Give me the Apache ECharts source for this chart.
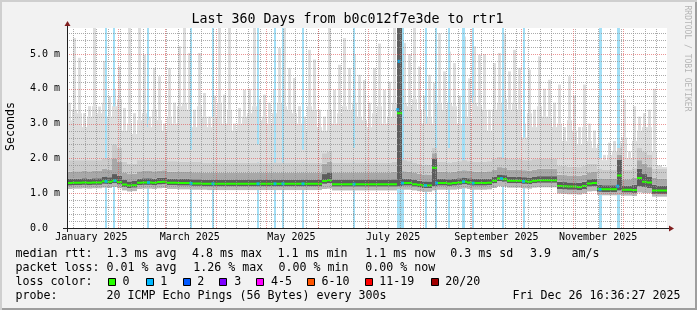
<!DOCTYPE html>
<html><head><meta charset="utf-8">
<script src="https://cdn.jsdelivr.net/npm/echarts@6/dist/echarts.min.js"></script>
<style>html,body{margin:0;padding:0;background:#f2f2f2}#c{width:697px;height:310px}</style>
</head><body><div id="c"></div>
<script>
// ---------- data ----------
const AXIS_START = '2025-01-01T08:00:00Z';   // left edge of the 360-day window (fitted to the grid)
const SPAN_DAYS = 360;
const BIN_DAYS = 3;                          // one value per 3 days (120 bins)
const Y_MAX = 5.747;                         // ms at the top of the plot

// median rtt per bin (ms)
const median = [
 1.29,1.30,1.30,1.31,1.30,1.31,1.31,1.34,1.33,1.36,
 1.32,1.25,1.22,1.23,1.30,1.31,1.31,1.30,1.32,1.33,
 1.30,1.30,1.29,1.29,1.29,1.28,1.28,1.27,1.27,1.27,
 1.27,1.27,1.27,1.27,1.27,1.27,1.27,1.27,1.27,1.27,
 1.27,1.27,1.27,1.27,1.27,1.27,1.27,1.27,1.27,1.27,
 1.27,1.35,1.37,1.26,1.26,1.26,1.26,1.26,1.26,1.26,
 1.26,1.26,1.26,1.26,1.26,1.26,3.30,1.29,1.29,1.26,
 1.24,1.22,1.22,1.73,1.29,1.29,1.28,1.29,1.31,1.33,
 1.31,1.29,1.29,1.29,1.30,1.36,1.42,1.40,1.36,1.36,
 1.36,1.34,1.33,1.36,1.37,1.37,1.37,1.37,1.21,1.20,
 1.19,1.19,1.18,1.21,1.28,1.29,1.12,1.11,1.11,1.11,
 1.51,1.10,1.10,1.09,1.44,1.33,1.31,1.08,1.08,1.08];

// smoke: lowest ping
const smokeMin = [
 1.12,1.13,1.13,1.14,1.13,1.14,1.14,1.16,1.15,1.18,
 1.14,1.08,1.05,1.06,1.12,1.13,1.13,1.12,1.14,1.15,
 1.12,1.12,1.11,1.11,1.11,1.10,1.10,1.10,1.09,1.09,
 1.09,1.09,1.09,1.09,1.09,1.09,1.09,1.09,1.09,1.09,
 1.09,1.09,1.09,1.09,1.09,1.09,1.09,1.09,1.09,1.09,
 1.09,1.12,1.13,1.08,1.08,1.08,1.08,1.08,1.08,1.08,
 1.08,1.08,1.08,1.08,1.08,1.08,1.12,1.10,1.10,1.08,
 1.06,1.04,1.04,1.08,1.10,1.10,1.10,1.10,1.12,1.14,
 1.12,1.10,1.10,1.10,1.11,1.15,1.20,1.19,1.16,1.16,
 1.16,1.14,1.13,1.16,1.17,1.17,1.17,1.17,0.99,0.98,
 0.97,0.97,0.96,0.99,1.05,1.06,0.95,0.94,0.94,0.94,
 0.95,0.93,0.93,0.92,1.02,1.00,1.00,0.90,0.90,0.90];

// smoke: bottom of the dark core
const darkLow = [
 1.22,1.23,1.23,1.24,1.23,1.24,1.24,1.27,1.26,1.29,
 1.25,1.18,1.15,1.16,1.23,1.24,1.24,1.23,1.25,1.26,
 1.23,1.23,1.22,1.22,1.22,1.21,1.21,1.20,1.20,1.20,
 1.20,1.20,1.20,1.20,1.20,1.20,1.20,1.20,1.20,1.20,
 1.20,1.20,1.20,1.20,1.20,1.20,1.20,1.20,1.20,1.20,
 1.20,1.27,1.29,1.19,1.19,1.19,1.19,1.19,1.19,1.19,
 1.19,1.19,1.19,1.19,1.19,1.19,1.20,1.22,1.22,1.19,
 1.17,1.15,1.15,1.20,1.22,1.22,1.21,1.22,1.24,1.26,
 1.24,1.22,1.22,1.22,1.23,1.29,1.35,1.33,1.29,1.29,
 1.29,1.27,1.26,1.29,1.30,1.30,1.30,1.30,1.12,1.11,
 1.10,1.10,1.09,1.12,1.19,1.20,1.04,1.03,1.03,1.03,
 1.08,1.02,1.02,1.01,1.20,1.18,1.15,0.98,0.98,0.98];

// smoke: top of the dark core
const darkHigh = [
 1.41,1.42,1.42,1.43,1.42,1.43,1.43,1.48,1.46,1.55,
 1.50,1.38,1.34,1.35,1.42,1.43,1.43,1.42,1.44,1.45,
 1.42,1.42,1.41,1.41,1.41,1.40,1.40,1.39,1.39,1.39,
 1.39,1.39,1.39,1.39,1.39,1.39,1.39,1.39,1.39,1.39,
 1.39,1.39,1.39,1.39,1.39,1.39,1.39,1.39,1.39,1.39,
 1.39,1.55,1.60,1.38,1.38,1.38,1.38,1.38,1.38,1.38,
 1.38,1.38,1.38,1.38,1.38,1.40,5.76,1.42,1.41,1.38,
 1.36,1.34,1.34,2.00,1.42,1.41,1.40,1.41,1.43,1.45,
 1.43,1.41,1.41,1.41,1.42,1.48,1.54,1.52,1.48,1.48,
 1.48,1.46,1.45,1.48,1.49,1.49,1.49,1.49,1.33,1.32,
 1.31,1.31,1.30,1.33,1.40,1.41,1.24,1.23,1.23,1.23,
 1.96,1.22,1.22,1.24,1.70,1.55,1.48,1.24,1.22,1.22];

// smoke: top of the medium grey band
const midHigh = [
 1.62,1.63,1.63,1.64,1.63,1.64,1.64,1.70,1.68,2.00,
 1.90,1.58,1.55,1.56,1.63,1.64,1.64,1.63,1.65,1.66,
 1.62,1.62,1.61,1.61,1.61,1.60,1.60,1.59,1.59,1.59,
 1.59,1.59,1.59,1.59,1.59,1.59,1.59,1.59,1.59,1.59,
 1.59,1.59,1.59,1.59,1.59,1.59,1.59,1.59,1.59,1.59,
 1.59,1.85,1.90,1.58,1.58,1.58,1.58,1.58,1.58,1.58,
 1.58,1.58,1.58,1.58,1.58,1.62,5.76,1.63,1.62,1.58,
 1.56,1.54,1.54,2.15,1.62,1.62,1.60,1.62,1.64,1.66,
 1.64,1.62,1.62,1.62,1.63,1.68,1.75,1.73,1.68,1.68,
 1.68,1.66,1.65,1.68,1.70,1.70,1.70,1.70,1.53,1.52,
 1.51,1.51,1.50,1.53,1.60,1.61,1.42,1.41,1.41,1.41,
 2.10,1.40,1.40,1.45,1.95,1.85,1.75,1.45,1.42,1.42];

// smoke: top of the light-medium band
const lightHigh = [
 1.95,1.95,1.95,1.95,1.95,1.95,1.95,2.00,2.00,2.40,
 2.30,1.90,1.85,1.85,1.95,1.95,1.95,1.95,1.95,1.95,
 1.92,1.92,1.90,1.90,1.90,1.90,1.90,1.88,1.88,1.88,
 1.88,1.88,1.88,1.88,1.88,1.88,1.88,1.88,1.88,1.88,
 1.88,1.88,1.88,1.88,1.88,1.88,1.88,1.88,1.88,1.88,
 1.88,2.15,2.20,1.88,1.88,1.88,1.88,1.88,1.88,1.88,
 1.88,1.88,1.88,1.88,1.88,1.90,5.76,1.95,1.92,1.88,
 1.85,1.82,1.82,2.30,1.90,1.90,1.88,1.90,1.92,1.95,
 1.92,1.90,1.90,1.90,1.92,1.98,2.05,2.02,1.98,1.98,
 1.98,1.95,1.95,1.98,2.00,2.00,2.00,2.00,1.78,1.78,
 1.76,1.76,1.75,1.78,1.85,1.85,1.70,1.68,1.68,1.68,
 2.30,1.68,1.68,1.72,2.30,2.20,2.10,1.70,1.70,1.70];

// smoke: top of the dense light-grey mass
const lightDense = [
 3.10,3.40,3.30,2.90,3.20,3.50,3.30,3.60,3.20,3.50,
 3.70,2.80,3.00,2.70,3.10,3.30,2.90,3.40,3.10,2.80,
 3.20,3.00,3.50,3.60,3.40,2.90,3.50,3.20,2.90,3.20,
 3.60,3.00,3.40,2.80,3.00,3.20,3.30,3.50,3.10,3.20,
 3.00,3.30,3.60,3.50,3.40,3.30,3.00,2.80,3.50,3.40,
 2.90,2.80,3.40,3.00,3.30,3.50,3.40,3.60,3.20,3.10,
 2.90,3.30,3.50,3.00,3.20,3.60,5.76,3.60,3.50,3.70,
 3.40,3.00,3.20,3.00,3.60,3.40,3.60,3.50,3.00,3.60,
 3.20,3.60,3.50,3.40,2.80,3.40,3.60,3.70,3.40,3.60,
 3.40,2.60,3.30,2.90,3.50,3.20,3.20,2.90,3.00,2.50,
 3.10,2.80,2.40,2.90,2.50,2.30,2.40,1.95,2.10,2.20,
 2.40,2.60,2.00,2.50,2.80,2.90,2.90,2.20,1.80,1.75];

// smoke: highest ping
const smokeMax = [
 3.60,5.46,4.89,3.30,3.50,5.76,3.49,4.80,3.78,4.00,
 4.64,3.45,5.76,3.30,5.76,4.98,3.20,4.60,4.36,3.00,
 4.60,3.60,5.22,5.76,5.03,3.40,5.03,3.88,3.20,3.80,
 5.76,3.83,5.76,3.00,3.45,3.97,4.00,5.76,3.70,3.83,
 3.60,3.97,5.17,5.76,4.60,4.31,3.50,3.20,5.12,4.84,
 3.40,3.20,5.76,3.97,4.69,5.46,4.60,5.00,4.40,4.25,
 3.60,4.60,5.30,3.97,4.20,5.76,5.76,5.32,5.00,5.76,
 4.64,3.80,4.40,4.17,5.60,4.50,5.07,4.74,3.80,5.50,
 4.30,5.22,4.98,5.00,3.40,4.74,5.03,5.60,4.50,5.12,
 4.60,3.00,4.55,3.40,4.93,4.00,4.26,3.60,4.12,2.90,
 4.36,3.80,2.90,4.12,3.00,2.80,3.78,2.10,2.45,2.50,
 2.50,3.70,2.20,3.50,3.20,3.30,3.40,4.00,1.80,1.75];

// packet-loss events: start (days into the window), length (days), smoke height covering the bar (ms)
const lossStart = [22.7,27.8,48.1,73.7,87.1,114.2,124.1,128.9,141.0,171.7,198.0,214.9,220.7,228.7,236.7,242.7,260.8,273.8,319.4,329.7];
const lossDays  = [1.2,1.2,1.3,1.2,1.2,1.2,1.2,1.2,1.2,1.2,4.2,1.2,1.2,1.2,2.1,1.2,1.6,1.2,1.4,2.2];
const lossCover = [2.0,3.5,3.1,2.25,3.7,2.4,1.3,1.3,2.25,2.3,1.3,3.4,1.5,2.3,1.4,3.8,1.5,2.6,2.0,2.0];
// median samples drawn in the "1 lost" colour
const lossDotDay = [23.4,28.8,48.9,74.4,87.6,114.6,124.8,129.6,141.6,172.2,198.4,199.2,201.3,215.1,221.7,237.9,243.6,260.7,273.9,319.8,330.4];
const lossDotMs  = [1.34,1.36,1.31,1.28,1.27,1.27,1.27,1.27,1.27,1.26,3.40,4.79,1.29,1.22,1.29,1.33,1.29,1.42,1.34,1.11,1.20];

// axis text
const monthLabels     = ['January 2025','March 2025','May 2025','July 2025','September 2025','November 2025'];
const monthLabelDates = ['2025-01-16','2025-03-16','2025-05-16','2025-07-16','2025-09-16','2025-11-16'];
const monthGridDates  = ['2025-02-01','2025-03-01','2025-04-01','2025-05-01','2025-06-01','2025-07-01','2025-08-01','2025-09-01','2025-10-01','2025-11-01','2025-12-01'];
const firstWeekLine   = '2025-01-05';
const yTickLabels     = ['0.0  ','1.0 m','2.0 m','3.0 m','4.0 m','5.0 m'];

// legend
const legendRows = [
  ['median rtt:', ['1.3 ms avg','4.8 ms max','1.1 ms min','1.1 ms now','0.3 ms sd','3.9','am/s']],
  ['packet loss:', ['0.01 % avg','1.26 % max','0.00 % min','0.00 % now']]
];
const lossColorNames = ['0','1','2','3','4-5','6-10','11-19','20/20'];
const lossColors = ['#26ff00','#00b8ff','#0059ff','#7e00ff','#ff00ff','#ff5500','#ff0000','#a10000'];
const probeText = '20 ICMP Echo Pings (56 Bytes) every 300s';
const stampText = 'Fri Dec 26 16:36:27 2025';
const titleText = 'Last 360 Days from b0c012f7e3de to rtr1';

// ---------- layout / style ----------
const FONT = '"DejaVu Sans Mono", monospace';
const GX = 67, GY = 28, GW = 600, GH = 200;
const startMs = Date.parse(AXIS_START);
const dayOf = s => (Date.parse(s + 'T00:00:00Z') - startMs) / 86400000;
const labelDays = monthLabelDates.map(dayOf);
const monthDays = monthGridDates.map(dayOf);
const weekDays = [];
for (let d = dayOf(firstWeekLine); d < SPAN_DAYS; d += 7) weekDays.push(d);
const hMinor = [], hMajor = [];
for (let k = 1; k * 0.2 < Y_MAX; k++) { const v = +(k * 0.2).toFixed(1); (k % 5 ? hMinor : hMajor).push(v); }

const bins = median.map((_, i) => String(i));
const seg = (hi, lo) => hi.map((v, i) => Math.max(0, +(v - lo[i]).toFixed(3)));
// median as flat pieces per bin (no vertical joins)
const medianPts = [];
median.forEach((v, i) => { medianPts.push([i * BIN_DAYS, v], [(i + 1) * BIN_DAYS, v], [(i + 1) * BIN_DAYS, '-']); });

function hLine(color) {
  return (p, api) => {
    const cs = p.coordSys; const y = Math.round(api.coord([0, api.value(1)])[1]) + 0.5;
    return { type: 'line', silent: true, shape: { x1: cs.x, y1: y, x2: cs.x + cs.width, y2: y }, style: { stroke: color, lineWidth: 1, lineDash: [1, 1] } };
  };
}
function vLine(color) {
  return (p, api) => {
    const cs = p.coordSys; const x = Math.round(api.coord([api.value(0), 0])[0]) + 0.5;
    return { type: 'line', silent: true, shape: { x1: x, y1: cs.y + cs.height, x2: x, y2: cs.y }, style: { stroke: color, lineWidth: 1, lineDash: [1, 1] } };
  };
}
function lossBar(front) {
  return (p, api) => {
    const cs = p.coordSys;
    const x0 = Math.round(api.coord([api.value(0), 0])[0]);
    const x1 = Math.round(api.coord([api.value(0) + api.value(1), 0])[0]);
    const yb = front ? api.coord([0, api.value(2)])[1] : cs.y + cs.height;
    return { type: 'rect', silent: true, shape: { x: x0, y: cs.y, width: Math.max(1, x1 - x0), height: yb - cs.y }, style: { fill: '#a2dff6' } };
  };
}
const lossData = lossStart.map((s, i) => [s, lossDays[i], lossCover[i]]);

function barLayer(data, color, z, axis, stack, gap) {
  return { type: 'bar', xAxisIndex: axis, yAxisIndex: 0, stack, data, z, silent: true,
    barCategoryGap: gap, barGap: '0%', itemStyle: { color, borderWidth: 0 } };
}

const graphic = [];
// frame shading
graphic.push({ type: 'rect', shape: { x: 0, y: 0, width: 697, height: 2 }, style: { fill: '#cfcfcf' } });
graphic.push({ type: 'rect', shape: { x: 0, y: 0, width: 2, height: 310 }, style: { fill: '#cfcfcf' } });
graphic.push({ type: 'rect', shape: { x: 2, y: 308, width: 695, height: 2 }, style: { fill: '#9e9e9e' } });
graphic.push({ type: 'rect', shape: { x: 695, y: 2, width: 2, height: 308 }, style: { fill: '#9e9e9e' } });
// axis stubs and arrows
const AX = '#1f1f1f', AR = '#801f1f';
graphic.push({ type: 'line', z: 100, shape: { x1: 63, y1: 228.5, x2: 67, y2: 228.5 }, style: { stroke: AX, lineWidth: 1 } });
graphic.push({ type: 'line', z: 100, shape: { x1: 667, y1: 228.5, x2: 671, y2: 228.5 }, style: { stroke: AX, lineWidth: 1 } });
graphic.push({ type: 'line', z: 100, shape: { x1: 67.5, y1: 228, x2: 67.5, y2: 232 }, style: { stroke: AX, lineWidth: 1 } });
graphic.push({ type: 'line', z: 100, shape: { x1: 67.5, y1: 24, x2: 67.5, y2: 28 }, style: { stroke: AX, lineWidth: 1 } });
graphic.push({ type: 'polygon', z: 100, shape: { points: [[669, 225.5], [669, 231.5], [674, 228.5]] }, style: { fill: AR } });
graphic.push({ type: 'polygon', z: 100, shape: { points: [[64.5, 26], [70.5, 26], [67.5, 21]] }, style: { fill: AR } });
// title, axis title, watermark
graphic.push({ type: 'text', x: 347.5, y: 19.5, style: { text: titleText, font: '13.3px ' + FONT, fill: '#000', align: 'center', verticalAlign: 'middle' } });
graphic.push({ type: 'text', x: 11, y: 126.5, rotation: Math.PI / 2, style: { text: 'Seconds', font: '11.6px ' + FONT, fill: '#000', align: 'center', verticalAlign: 'middle' } });
graphic.push({ type: 'text', x: 687.5, y: 58.5, rotation: -Math.PI / 2, style: { text: 'RRDTOOL / TOBI OETIKER', font: '8px ' + FONT, fill: '#b5b5b5', align: 'center', verticalAlign: 'middle' } });
// legend
const LF = '11.63px ' + FONT;
const rowMid = [254.3, 268.3, 282.0, 296.0];
const row1X = [107.3, 192.7, 278.3, 366, 451, 530.7, 572.3];
const row2X = [107.3, 194, 279.3, 366];
const txt = (s, x, y) => ({ type: 'text', x, y, style: { text: s, font: LF, fill: '#000', align: 'left', verticalAlign: 'middle' } });
graphic.push(txt(legendRows[0][0], 15.5, rowMid[0]));
legendRows[0][1].forEach((s, i) => graphic.push(txt(s, row1X[i] - 0.8, rowMid[0])));
graphic.push(txt(legendRows[1][0], 15.5, rowMid[1]));
legendRows[1][1].forEach((s, i) => graphic.push(txt(s, row2X[i] - 0.8, rowMid[1])));
graphic.push(txt('loss color:', 15.5, rowMid[2]));
const boxX = [108, 145.5, 182.5, 219, 256, 307, 365, 430.5];
const boxLabelX = [123.3, 161, 198, 235, 271.7, 322.3, 380, 446];
lossColorNames.forEach((s, i) => {
  graphic.push({ type: 'rect', shape: { x: Math.round(boxX[i]) + 0.5, y: 278.5, width: 7, height: 7 }, style: { fill: lossColors[i], stroke: '#000', lineWidth: 1 } });
  graphic.push(txt(s, boxLabelX[i] - 0.8, rowMid[2]));
});
graphic.push(txt('probe:', 15.5, rowMid[3]));
graphic.push(txt(probeText, 107.3 - 0.8, rowMid[3]));
graphic.push(txt(stampText, 513.3 - 0.8, rowMid[3]));

const option = {
  animation: false,
  backgroundColor: '#f2f2f2',
  textStyle: { fontFamily: FONT },
  grid: { left: GX, top: GY, width: GW, height: GH, show: true, backgroundColor: '#ffffff', borderWidth: 0, containLabel: false },
  xAxis: [
    { type: 'value', min: 0, max: SPAN_DAYS, z: 10,
      axisLine: { show: true, lineStyle: { color: AX, width: 1 } },
      axisTick: { show: false }, splitLine: { show: false },
      axisLabel: { customValues: labelDays, margin: 4, fontSize: 10, lineHeight: 10, fontFamily: FONT, color: '#000',
        formatter: v => { const k = labelDays.findIndex(d => Math.abs(d - v) < 1e-3); return k >= 0 ? monthLabels[k] : ''; } } },
    { type: 'category', data: bins, show: false, boundaryGap: true },
    { type: 'category', data: bins, show: false, boundaryGap: true }
  ],
  yAxis: [
    { type: 'value', min: 0, max: Y_MAX, interval: 1, z: 10,
      axisLine: { show: true, lineStyle: { color: AX, width: 1 } },
      axisTick: { show: false }, splitLine: { show: false },
      axisLabel: { margin: 7, fontSize: 10, fontFamily: FONT, color: '#000', showMaxLabel: false,
        formatter: v => yTickLabels[Math.round(v)] || '' } }
  ],
  graphic,
  series: [
    { type: 'custom', xAxisIndex: 0, yAxisIndex: 0, z: 1, silent: true, renderItem: lossBar(false), data: lossData },
    // continuous smoke (full bin width)
    barLayer(smokeMin, 'rgba(0,0,0,0)', 4, 1, 'smoke', '0%'),
    barLayer(seg(darkLow, smokeMin), '#b8b8b8', 4, 1, 'smoke', '0%'),
    barLayer(seg(darkHigh, darkLow), '#5c5c5c', 4, 1, 'smoke', '0%'),
    barLayer(seg(midHigh, darkHigh), '#a8a8a8', 4, 1, 'smoke', '0%'),
    barLayer(seg(lightHigh, midHigh), '#cbcbcb', 4, 1, 'smoke', '0%'),
    barLayer(seg(lightDense, lightHigh), '#dddddd', 2, 1, 'smoke', '0%'),
    // sparse outlier spikes (narrower bars)
    barLayer(lightDense, 'rgba(0,0,0,0)', 2, 2, 'spikes', '40%'),
    barLayer(seg(smokeMax, lightDense), '#dddddd', 2, 2, 'spikes', '40%'),
    { type: 'custom', xAxisIndex: 0, yAxisIndex: 0, z: 3, silent: true, renderItem: lossBar(true), data: lossData },
    { type: 'line', xAxisIndex: 0, yAxisIndex: 0, z: 5, silent: true, data: medianPts, symbol: 'none', showSymbol: false,
      connectNulls: false, lineStyle: { color: '#26ff00', width: 2 } },
    { type: 'scatter', xAxisIndex: 0, yAxisIndex: 0, z: 6, silent: true, symbol: 'rect', symbolSize: [3, 3],
      itemStyle: { color: '#00b8ff' }, data: lossDotDay.map((d, i) => [d, lossDotMs[i]]) },
    { type: 'custom', xAxisIndex: 0, yAxisIndex: 0, z: 8, silent: true, renderItem: hLine('rgba(143,143,143,0.75)'), data: hMinor.map(v => [0, v]) },
    { type: 'custom', xAxisIndex: 0, yAxisIndex: 0, z: 8, silent: true, renderItem: vLine('rgba(143,143,143,0.75)'), data: weekDays.map(d => [d, 0]) },
    { type: 'custom', xAxisIndex: 0, yAxisIndex: 0, z: 9, silent: true, renderItem: hLine('rgba(222,79,79,0.6)'), data: hMajor.map(v => [0, v]) },
    { type: 'custom', xAxisIndex: 0, yAxisIndex: 0, z: 9, silent: true, renderItem: vLine('rgba(222,79,79,0.6)'), data: monthDays.map(d => [d, 0]) }
  ]
};
const chart = echarts.init(document.getElementById('c'), null, { renderer: 'canvas' });
chart.setOption(option);
</script></body></html>
